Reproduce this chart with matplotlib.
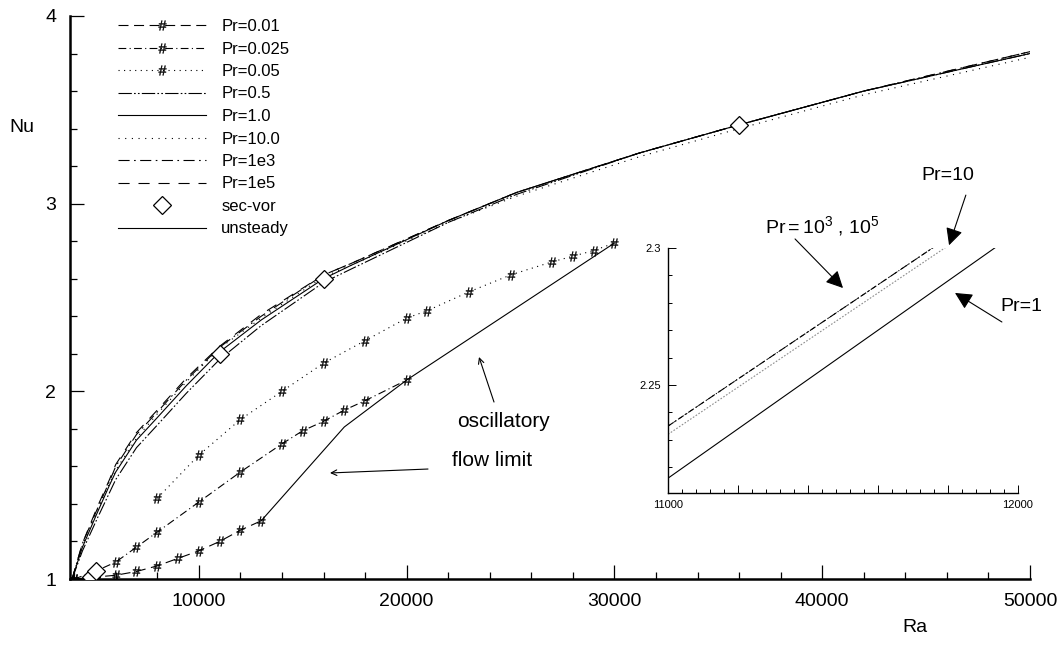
import numpy as np
import matplotlib
matplotlib.use("Agg")
import matplotlib.pyplot as plt
from matplotlib.ticker import MultipleLocator, FixedLocator

plt.rcParams['font.family'] = ['Liberation Sans', 'DejaVu Sans']
plt.rcParams['mathtext.fontset'] = 'custom'
plt.rcParams['mathtext.rm'] = 'Liberation Sans'
plt.rcParams['mathtext.it'] = 'Liberation Sans'

# steady branches, Nu against Ra
ra_steady = [3900, 4400, 5100, 5700, 6000, 7000, 8000, 9400, 11000, 13000,
             16000, 17300, 22000, 25300, 31200, 36000, 42000, 50000]
nu_pr05 = [1.00, 1.15, 1.32, 1.46, 1.53, 1.70, 1.82, 1.99, 2.17, 2.35,
           2.58, 2.65, 2.90, 3.05, 3.27, 3.42, 3.60, 3.80]
nu_pr1 = [1.00, 1.17, 1.35, 1.50, 1.57, 1.74, 1.86, 2.03, 2.21, 2.38,
          2.60, 2.67, 2.91, 3.06, 3.27, 3.42, 3.60, 3.80]
nu_pr10 = [1.00, 1.18, 1.36, 1.51, 1.58, 1.75, 1.88, 2.05, 2.23, 2.39,
           2.61, 2.67, 2.90, 3.04, 3.25, 3.40, 3.58, 3.78]
nu_pr1e3 = [1.00, 1.19, 1.37, 1.52, 1.60, 1.77, 1.89, 2.06, 2.235, 2.40,
            2.62, 2.68, 2.91, 3.06, 3.27, 3.42, 3.60, 3.81]
nu_pr1e5 = [1.00, 1.19, 1.38, 1.53, 1.61, 1.78, 1.90, 2.07, 2.24, 2.41,
            2.62, 2.68, 2.91, 3.06, 3.27, 3.42, 3.60, 3.81]

# low Prandtl numbers
ra_pr001 = [4000, 5000, 6000, 7000, 8000, 9000, 10000, 11000, 12000, 13000]
nu_pr001 = [1.00, 1.01, 1.02, 1.04, 1.07, 1.11, 1.15, 1.20, 1.26, 1.31]
ra_pr0025 = [4000, 5000, 6000, 7000, 8000, 10000, 12000, 14000, 15000,
             16000, 17000, 18000, 20000]
nu_pr0025 = [1.00, 1.04, 1.09, 1.17, 1.25, 1.41, 1.57, 1.72, 1.79,
             1.84, 1.90, 1.95, 2.06]
ra_pr005 = [8000, 10000, 12000, 14000, 16000, 18000, 20000, 21000, 23000,
            25000, 27000, 28000, 29000, 30000]
nu_pr005 = [1.43, 1.66, 1.85, 2.00, 2.15, 2.27, 2.39, 2.43, 2.53,
            2.62, 2.69, 2.72, 2.75, 2.79]

# secondary vortex onset and oscillatory limit
ra_secvor = [4800, 5050, 11000, 16000, 36000]
nu_secvor = [1.01, 1.04, 2.20, 2.60, 3.42]
ra_unsteady = [13000, 17000, 20000, 30000]
nu_unsteady = [1.31, 1.81, 2.06, 2.79]

# close-up between Ra=11000 and 12000
ra_zoom = [11000, 12000]
nu_zoom_pr1 = [2.216, 2.306]
nu_zoom_pr10 = [2.232, 2.318]
nu_zoom_pr1e3 = [2.235, 2.321]
nu_zoom_pr1e5 = [2.235, 2.321]

W, H = 1062, 645
fig = plt.figure(figsize=(W / 100, H / 100), dpi=100)
ax = fig.add_axes([70 / W, 1 - 579 / H, 960 / W, 563 / H])

lw = 0.8
hash_mk = dict(marker='$\\#$', markersize=7, markeredgewidth=0.3)
ax.plot(ra_pr001, nu_pr001, color='k', lw=lw, ls=(0, (9, 5)), label='Pr=0.01', **hash_mk)
ax.plot(ra_pr0025, nu_pr0025, color='k', lw=lw, ls=(0, (7, 3, 1, 3)), label='Pr=0.025', **hash_mk)
ax.plot(ra_pr005, nu_pr005, color='k', lw=lw, ls=(0, (1, 4)), label='Pr=0.05', **hash_mk)
ax.plot(ra_steady, nu_pr05, color='k', lw=lw, ls=(0, (12, 2, 1.5, 2, 1.5, 2)), label='Pr=0.5')
ax.plot(ra_steady, nu_pr1, color='k', lw=lw, ls='-', label='Pr=1.0')
ax.plot(ra_steady, nu_pr10, color='k', lw=lw, ls=(0, (1, 5)), label='Pr=10.0')
ax.plot(ra_steady, nu_pr1e3, color='k', lw=lw, ls=(0, (10, 4, 1.5, 4)), label='Pr=1e3')
ax.plot(ra_steady, nu_pr1e5, color='k', lw=lw, ls=(0, (10, 8)), label='Pr=1e5')
ax.plot(ra_secvor, nu_secvor, ls='none', marker='D', markersize=9,
        mfc='white', mec='k', mew=0.9, label='sec-vor', zorder=5)
ax.plot(ra_unsteady, nu_unsteady, color='k', lw=lw, ls='-', label='unsteady')

ax.set_xlim(3800, 50000)
ax.set_ylim(1, 4)
ax.xaxis.set_major_locator(MultipleLocator(10000))
ax.xaxis.set_minor_locator(MultipleLocator(2000))
ax.yaxis.set_major_locator(MultipleLocator(1))
ax.yaxis.set_minor_locator(MultipleLocator(0.2))
ax.tick_params(which='both', direction='in', width=0.9, labelsize=14, pad=10)
ax.tick_params(which='major', length=10)
ax.tick_params(which='minor', length=5)
for s in ['top', 'right']:
    ax.spines[s].set_visible(False)
for s in ['left', 'bottom']:
    ax.spines[s].set_linewidth(1.8)

fig.text(22 / W, 1 - 128 / H, 'Nu', fontsize=14, ha='center', va='center')
fig.text(915 / W, 1 - 628 / H, 'Ra', fontsize=14, ha='center', va='center')

ax.legend(loc='upper left', bbox_to_anchor=(118 / W, 1 - 19 / H),
          bbox_transform=fig.transFigure, frameon=False, fontsize=12,
          numpoints=1, handlelength=5.3, handletextpad=0.9,
          labelspacing=0.45, borderpad=0, borderaxespad=0)

ax.text(24640, 1.84, 'oscillatory', fontsize=15, ha='center', va='center')
ax.text(24100, 1.63, 'flow limit', fontsize=15, ha='center', va='center')
thin = dict(arrowstyle='->', lw=0.8, color='k', shrinkA=0, shrinkB=0)
ax.annotate('', xy=(23483, 2.183), xytext=(24205, 1.943), arrowprops=thin)
ax.annotate('', xy=(16313, 1.565), xytext=(21029, 1.586), arrowprops=thin)

# inset
ins = fig.add_axes([668 / W, 1 - 493 / H, 350 / W, 245 / H])
ins.patch.set_alpha(0)
ins.plot(ra_zoom, nu_zoom_pr1, color='k', lw=0.8, ls='-')
ins.plot(ra_zoom, nu_zoom_pr10, color='0.55', lw=0.8, ls=(0, (1.5, 1.5)))
ins.plot(ra_zoom, nu_zoom_pr1e3, color='k', lw=0.8, ls=(0, (6, 2, 1, 2)))
ins.plot(ra_zoom, nu_zoom_pr1e5, color='k', lw=0.6, ls=(0, (4, 4)))
ins.set_xlim(11000, 12000)
ins.set_ylim(2.2106, 2.30)
ins.set_xticks([11000, 11200, 11400, 11600, 11800, 12000])
ins.set_xticklabels(['11000', '', '', '', '', '12000'])
ins.xaxis.set_minor_locator(MultipleLocator(40))
ins.yaxis.set_major_locator(FixedLocator([2.25, 2.30]))
ins.yaxis.set_minor_locator(MultipleLocator(0.01))
ins.set_yticklabels(['2.25', '2.3'])
ins.tick_params(which='both', direction='in', width=0.7, labelsize=8, pad=5)
ins.tick_params(which='major', length=6)
ins.tick_params(which='minor', length=3)
for s in ['top', 'right']:
    ins.spines[s].set_visible(False)
for s in ['left', 'bottom']:
    ins.spines[s].set_linewidth(1.0)

# labels with filled arrows pointing at the close-up lines
head = dict(arrowstyle='-|>', lw=0.8, color='k', mutation_scale=26,
            shrinkA=0, shrinkB=0)
ins.text(11440, 2.308, '$\\mathregular{Pr=10^3}$ , $\\mathregular{10^5}$',
         fontsize=14, ha='center', va='center')
ins.annotate('', xy=(11500, 2.2854), xytext=(11363, 2.3033),
             annotation_clip=False, arrowprops=head)
ins.text(11800, 2.3263, 'Pr=10', fontsize=14, ha='center', va='center')
ins.annotate('', xy=(11803, 2.301), xytext=(11851, 2.3193),
             annotation_clip=False, arrowprops=head)
ins.text(12011, 2.2785, 'Pr=1', fontsize=14, ha='center', va='center')
ins.annotate('', xy=(11820, 2.2836), xytext=(11954, 2.273),
             annotation_clip=False, arrowprops=head)

fig.savefig('out.png', dpi=100)
